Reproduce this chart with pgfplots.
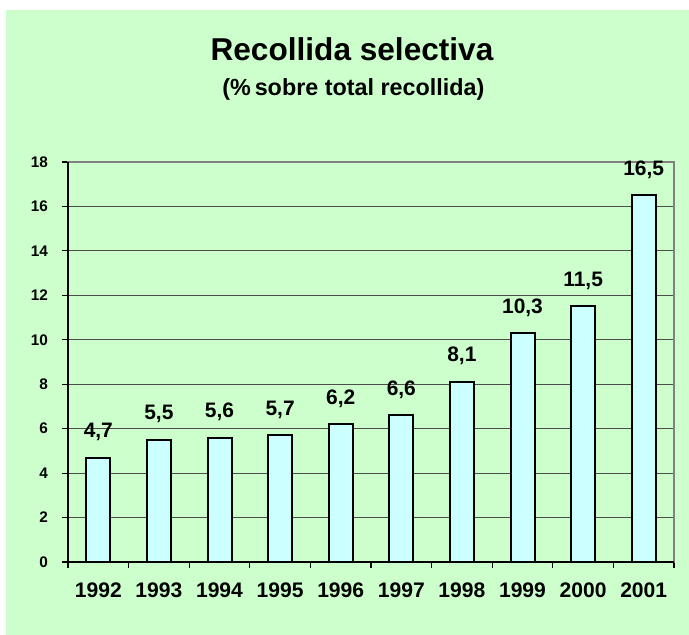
\documentclass[border=0pt]{standalone}
\usepackage{pgfplots}
\pgfplotsset{compat=1.18}
\usepackage{fontspec}
\setmainfont{Liberation Sans}
\definecolor{bggreen}{HTML}{CCFFCC}
\definecolor{barcyan}{HTML}{CCFFFF}
\begin{document}
\begin{tikzpicture}
\path[use as bounding box] (0,0) rectangle (516.75pt,476.25pt);
\fill[bggreen] (4.5pt,0) rectangle (516.75pt,468.75pt);
\node[anchor=base, font=\bfseries\fontsize{23.7}{27}\selectfont] at (264pt,430.5pt) {Recollida selectiva};
\node[anchor=base, font=\bfseries\fontsize{17.5}{21}\selectfont] at (265pt,404.5pt) {(\%\,sobre total recollida)};
\begin{axis}[
  at={(51pt,54.75pt)}, anchor=south west,
  scale only axis, width=454.5pt, height=300pt,
  xmin=-0.5, xmax=9.5, ymin=0, ymax=18,
  ytick={0,2,...,18},
  xtick={-0.5,0.5,...,9.5}, xticklabels={},
  extra x ticks={0,1,2,3,4,5,6,7,8,9},
  extra x tick labels={1992,1993,1994,1995,1996,1997,1998,1999,2000,2001},
  extra x tick style={major tick length=0pt, grid=none},
  ymajorgrids, grid style={draw=black!70, line width=0.75pt},
  axis line style={draw=gray, line width=1.3pt},
  tick style={draw=black, line width=0.9pt},
  major tick length=4.5pt,
  tick align=outside, tick pos=left,
  /pgf/number format/assume math mode=true,
  /pgf/number format/.cd, use comma, fixed, fixed zerofill, precision=1, /pgfplots/.cd,
  yticklabel={\pgfmathprintnumber[fixed, precision=0, fixed zerofill=false]{\tick}},
  yticklabel style={font=\bfseries\fontsize{11.5}{14}\selectfont, xshift=-7pt},
  xticklabel style={font=\bfseries\fontsize{15.8}{18}\selectfont, yshift=-12pt},
  bar width=18pt,
  clip=false,
  nodes near coords={\pgfmathprintnumber{\pgfplotspointmeta}},
  nodes near coords style={font=\bfseries\fontsize{15.7}{18}\selectfont, anchor=base, yshift=15pt},
]
\addplot[ybar, fill=barcyan, draw=black, line width=1.5pt] coordinates {
  (0,4.7) (1,5.5) (2,5.6) (3,5.7) (4,6.2) (5,6.6) (6,8.1) (7,10.3) (8,11.5) (9,16.5)
};
\draw[black, line width=1.3pt] (rel axis cs:0,1) -- (rel axis cs:0,0) -- (rel axis cs:1,0);
\end{axis}
\end{tikzpicture}
\end{document}
